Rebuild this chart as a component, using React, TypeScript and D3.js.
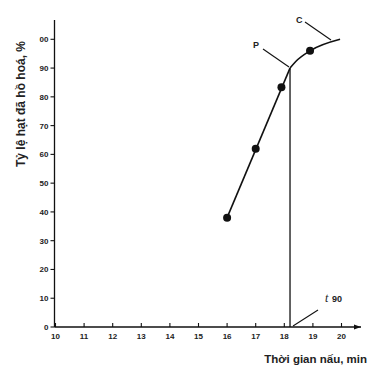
import React from "react";
import * as d3 from "d3";

const xTicks = [10, 11, 12, 13, 14, 15, 16, 17, 18, 19, 20];
const yTicks = [0, 10, 20, 30, 40, 50, 60, 70, 80, 90, 100];
const yTickLabels = ["0", "10", "20", "30", "40", "50", "60", "70", "80", "90", "00"];
const pointTime = [16, 17, 17.9, 18.9];
const pointValue = [38, 62, 83.3, 96];
const lineTime = [16, 18.2];
const lineValue = [38, 90];
const curveTime = [18.2, 18.4, 18.9, 19.95];
const curveValue = [90, 92.3, 96, 100];
const t90 = 18.2;

export default function App() {
  const W = 382, H = 370;
  const x = d3.scaleLinear().domain([10, 20]).range([55.5, 341.5]);
  const y = d3.scaleLinear().domain([0, 100]).range([327, 39.3]);
  const font = "'Liberation Sans', Arial, sans-serif";
  const straight = d3.line<number>().x((d) => x(lineTime[d])).y((d) => y(lineValue[d]));
  const curve = d3
    .line<number>()
    .x((d) => x(curveTime[d]))
    .y((d) => y(curveValue[d]))
    .curve(d3.curveMonotoneX);
  return (
    <svg width={W} height={H} style={{ position: "absolute", left: 0, top: 0, background: "#fff" }}>
      <g stroke="#111" fill="none" strokeWidth={1.3}>
        <line x1={x(10) - 1} y1={y(0)} x2={361} y2={y(0)} />
        <path d={`M361,${y(0)} l-7,-2.5 l0,5 z`} fill="#111" stroke="none" />
        <line x1={x(10) - 1} y1={y(0)} x2={x(10) - 1} y2={20} />
      </g>
      <g stroke="#111" strokeWidth={1.1}>
        {xTicks.map((t) => (
          <line key={t} x1={x(t)} x2={x(t)} y1={y(0)} y2={y(0) - 4} />
        ))}
        {yTicks.map((t) => (
          <line key={t} x1={x(10) - 1} x2={x(10) - 5} y1={y(t)} y2={y(t)} />
        ))}
      </g>
      <g fontFamily={font} fontSize={8} fontWeight="bold" fill="#222">
        {xTicks.map((t) => (
          <text key={t} x={x(t)} y={y(0) + 12} textAnchor="middle">
            {t}
          </text>
        ))}
        {yTicks.map((t, i) => (
          <text key={t} x={x(10) - 7} y={y(t) + 3} textAnchor="end">
            {yTickLabels[i]}
          </text>
        ))}
      </g>
      <path d={straight(d3.range(lineTime.length)) || ""} stroke="#111" strokeWidth={1.6} fill="none" />
      <path d={curve(d3.range(curveTime.length)) || ""} stroke="#111" strokeWidth={1.6} fill="none" />
      <line x1={x(t90)} x2={x(t90)} y1={y(90)} y2={y(0)} stroke="#111" strokeWidth={1.3} />
      {pointTime.map((t, i) => (
        <circle key={i} cx={x(t)} cy={y(pointValue[i])} r={4} fill="#111" />
      ))}
      <g stroke="#111" strokeWidth={1.1}>
        <line x1={263} y1={49} x2={x(t90) - 1} y2={y(90) - 1} />
        <line x1={305} y1={22} x2={331} y2={40} />
        <line x1={318} y1={310} x2={x(t90) + 3} y2={y(0) - 1} />
      </g>
      <g fontFamily={font} fontWeight="bold" fill="#222">
        <text x={253} y={48} fontSize={9}>P</text>
        <text x={296} y={23} fontSize={9}>C</text>
        <text x={325} y={302} fontSize={12} fontStyle="italic" fontWeight="normal" fontFamily="'Liberation Serif', serif">t</text>
        <text x={332} y={302} fontSize={9}>90</text>
        <text x={367} y={363} fontSize={11.5} textAnchor="end">Thời gian nấu, min</text>
        <text transform={`translate(25,104) rotate(-90)`} fontSize={12} textAnchor="middle">
          Tỷ lệ hạt đã hồ hoá, %
        </text>
      </g>
    </svg>
  );
}
